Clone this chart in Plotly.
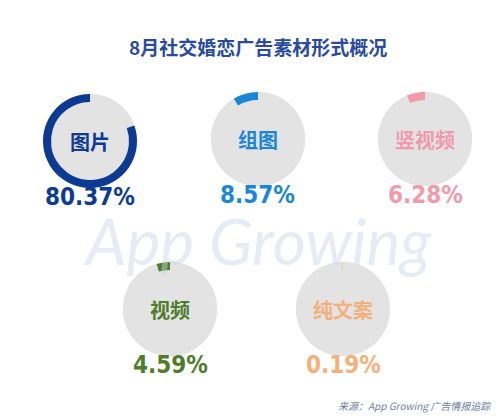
import plotly.graph_objects as go

# 素材形式数据
labels = ["图片", "组图", "竖视频", "视频", "纯文案"]
values = [80.37, 8.57, 6.28, 4.59, 0.19]
colors = ["#0d3b94", "#1a86d9", "#f09aaa", "#4f7d2c", "#f3b07a"]
arc_colors = ["#0d3b94", "#1a86d9", "#f09aaa", "#4f7d2c", "#e8c020"]

W, H = 499, 416
centers = [(82, 133), (250, 131), (417, 131), (162, 301), (335, 301)]
R = 47
grey = "#e3e3e3"


def note(x, y, text, size, color, family, xanchor="center"):
    fig.add_annotation(x=x / W, y=1 - y / H, xref="paper", yref="paper", text=text,
                       xanchor=xanchor, yanchor="middle", showarrow=False,
                       font=dict(size=size, color=color, family=family))


fig = go.Figure()

for i, (lab, v) in enumerate(zip(labels, values)):
    cx, cy = centers[i]
    dom = dict(x=[(cx - R) / W, (cx + R) / W], y=[1 - (cy + R) / H, 1 - (cy - R) / H])
    fig.add_trace(go.Pie(values=[1], marker=dict(colors=[grey], line=dict(width=0)), domain=dom,
                         textinfo="none", hoverinfo="skip", showlegend=False, sort=False))
    # 彩色弧线从12点方向逆时针展开
    fig.add_trace(go.Pie(values=[100 - v, v], marker=dict(colors=[grey, arc_colors[i]], line=dict(width=0)),
                         hole=0.83, domain=dom, direction="clockwise", rotation=0,
                         sort=False, textinfo="none", showlegend=False))
    note(cx, cy, "<b>%s</b>" % lab, 20, colors[i], "Noto Sans CJK SC")
    note(cx, cy + 56, "<b>%.2f%%</b>" % v, 24, colors[i], "DejaVu Sans Condensed")

# 水印
note(250, 232, "<i>App Growing</i>", 64, "rgba(200,212,232,0.45)", "Lato")

note(250, 38, "<b>8月社交婚恋广告素材形式概况</b>", 19, "#2a4aa0", "Noto Sans CJK SC")
note(486, 397, "<i>来源：App Growing 广告情报追踪</i>", 10, "#6a7fa8", "Noto Sans CJK SC", "right")

fig.update_layout(width=W, height=H, margin=dict(l=0, r=0, t=0, b=0, pad=0, autoexpand=False),
                  xaxis=dict(visible=False), yaxis=dict(visible=False),
                  paper_bgcolor="white", plot_bgcolor="white")
fig.write_html("out.html")
